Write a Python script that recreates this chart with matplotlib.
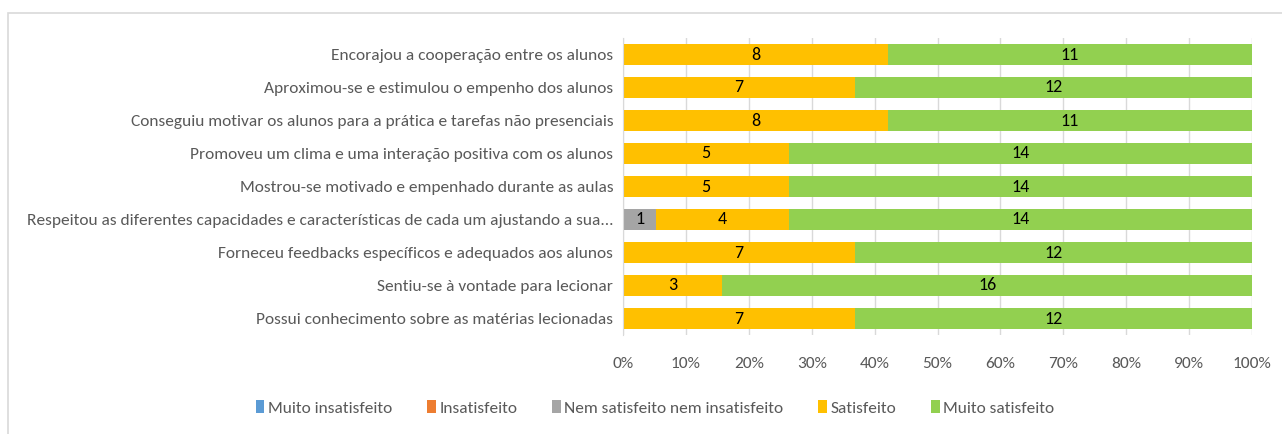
import matplotlib
matplotlib.use("Agg")
import matplotlib.pyplot as plt
import numpy as np
from matplotlib.patches import Rectangle
from matplotlib import font_manager

categories = [
    "Encorajou a cooperação entre os alunos",
    "Aproximou-se e estimulou o empenho dos alunos",
    "Conseguiu motivar os alunos para a prática e tarefas não presenciais",
    "Promoveu um clima e uma interação positiva com os alunos",
    "Mostrou-se motivado e empenhado durante as aulas",
    "Respeitou as diferentes capacidades e características de cada um ajustando a sua...",
    "Forneceu feedbacks específicos e adequados aos alunos",
    "Sentiu-se à vontade para lecionar",
    "Possui conhecimento sobre as matérias lecionadas",
]
series_names = ["Muito insatisfeito", "Insatisfeito", "Nem satisfeito nem insatisfeito",
                "Satisfeito", "Muito satisfeito"]
muito_insat = [0, 0, 0, 0, 0, 0, 0, 0, 0]
insat = [0, 0, 0, 0, 0, 0, 0, 0, 0]
nem = [0, 0, 0, 0, 0, 1, 0, 0, 0]
satisf = [8, 7, 8, 5, 5, 4, 7, 3, 7]
muito_satisf = [11, 12, 11, 14, 14, 14, 12, 16, 12]
colors = ["#5B9BD5", "#ED7D31", "#A5A5A5", "#FFC000", "#92D050"]
xticklabels = ["0%", "10%", "20%", "30%", "40%", "50%", "60%", "70%", "80%", "90%", "100%"]

avail = {f.name for f in font_manager.fontManager.ttflist}
fam = "DejaVu Sans"
for cand in ["Carlito", "Archivo Narrow", "Open Sans Condensed", "Asap Condensed", "Liberation Sans Narrow", "Liberation Sans"]:
    if cand in avail:
        fam = cand
        break
plt.rcParams['font.family'] = [fam, "DejaVu Sans"]

data = np.array([muito_insat, insat, nem, satisf, muito_satisf], dtype=float)
totals = data.sum(axis=0)
pct = data / totals

W, H = 1282, 434
fig = plt.figure(figsize=(W / 100, H / 100), dpi=100)
fig.patches.append(Rectangle((8 / W, -0.1), 1.2, 1.1 - 13.5 / H, transform=fig.transFigure,
                             fill=False, edgecolor="#D9D9D9", linewidth=1.2))
ax = fig.add_axes([623 / W, 1 - 335 / H, 629 / W, 297 / H])

y = np.arange(len(categories))
left = np.zeros(len(categories))
for i, name in enumerate(series_names):
    ax.barh(y, pct[i], left=left, height=0.64, color=colors[i], label=name, zorder=3)
    for j in range(len(categories)):
        if data[i, j] > 0:
            ax.text(left[j] + pct[i, j] / 2, y[j], f"{int(data[i, j])}", ha="center", va="center",
                    fontsize=13, color="#000000", zorder=4)
    left += pct[i]

ax.set_ylim(len(categories) - 0.5, -0.5)
ax.set_xlim(0, 1)
ax.set_xticks(np.linspace(0, 1, 11))
ax.set_xticklabels(xticklabels)
ax.set_yticks(y)
ax.set_yticklabels(categories)
ax.grid(axis="x", color="#D9D9D9", linewidth=1, zorder=0)
for s in ["top", "right", "bottom"]:
    ax.spines[s].set_visible(False)
ax.spines["left"].set_color("#D9D9D9")
ax.spines["left"].set_zorder(5)
ax.tick_params(axis="y", length=0, pad=7, labelsize=12.55, labelcolor="#595959")
ax.tick_params(axis="x", length=0, pad=16, labelsize=12.55, labelcolor="#595959")

leg = fig.legend(loc="center", bbox_to_anchor=(655 / W, 1 - 408 / H), ncol=5, frameon=False,
                 fontsize=12.55, handlelength=0.5, handleheight=0.8, handletextpad=0.2,
                 columnspacing=2.0, labelcolor="#595959")

fig.savefig("out.png", dpi=100)
